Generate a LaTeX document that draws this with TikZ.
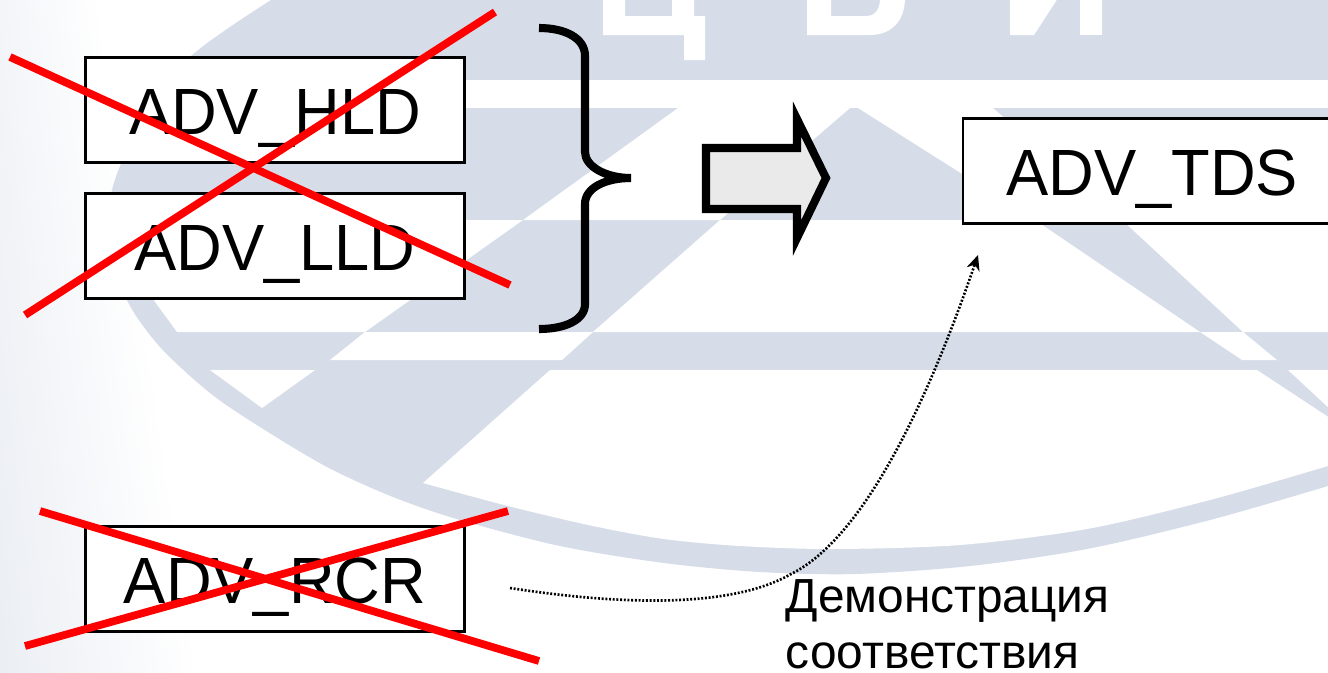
\documentclass[tikz,border=0pt]{standalone}
\usepackage{fontspec}
\setmainfont{Liberation Sans}
\newfontfamily\boxfont[FakeStretch=0.967]{Liberation Sans}
\usetikzlibrary{arrows.meta}
\definecolor{globe}{HTML}{D6DDE8}
\definecolor{arrowfill}{HTML}{EAEAEA}
\definecolor{crossred}{HTML}{FF0000}
\tikzset{
  x=0.01cm,y=-0.01cm,
  advbox/.style={draw=black,fill=white,line width=0.8pt,inner sep=0pt,minimum width=3.78cm,minimum height=1.05cm,text height=0.485cm,text depth=0pt,font=\boxfont\fontsize{18.6pt}{20pt}\selectfont},
  crossline/.style={draw=crossred,line width=2.2pt},
  gap/.style={fill=white,draw=none},
  blocky/.style={draw=black,fill=arrowfill,line width=2.3pt,line join=miter,miter limit=20},
  bracket/.style={draw=black,line width=2.3pt},
  trace/.style={draw=black,line width=0.75pt,dash pattern=on 0.55pt off 0.5pt,-{Stealth[length=4.3pt,width=3.8pt]}},
  caption/.style={anchor=base west,inner sep=0pt,font=\fontsize{13.6pt}{16pt}\selectfont}
}
\begin{document}
\begin{tikzpicture}
\useasboundingbox (0,0) rectangle (1328,672);
\clip (0,0) rectangle (1328,672);
\fill[white] (0,0) rectangle (1328,672);
% left edge tint
\foreach \yy in {0,14,...,658}{
  \pgfmathsetmacro{\ww}{100+\yy*0.15}
  \pgfmathsetmacro{\tt}{30+\yy*0.03}
  \pgfmathsetmacro{\tm}{\tt*0.18}
  \shade[left color=globe!\tt!white,middle color=globe!\tm!white,right color=white] (0,\yy) rectangle (\ww,\yy+15);
}
% globe
\fill[globe] plot[smooth] coordinates {(271,0) (190,57) (140,125) (112,190) (113,245) (127,300) (160,347) (210,393) (260,427) (327,467) (393,497) (460,520) (560,546) (664,563) (760,572) (855,574) (970,566) (1087,549) (1210,520) (1328,486) (1345,480)} -- (1345,-5) -- (271,-5) -- cycle;
% letters
\fill[gap] (603,-2) -- (625,-2) -- (625,16) -- (672,16) -- (672,-2) -- (694,-2) -- (694,16) -- (705,16) -- (705,60) -- (684,60) -- (684,35) -- (603,35) -- cycle;
\fill[gap] (807,-2) -- (831,-2) -- (831,16) -- (866,16) .. controls (876,16) and (880,8) .. (880,-2) -- (905,-2) .. controls (905,20) and (892,35) .. (870,35) -- (807,35) -- cycle;
\fill[gap] (1010,-2) -- (1010,35) -- (1034,35) -- (1058,-2) -- cycle;
\fill[gap] (1080,-2) -- (1080,35) -- (1102,35) -- (1102,-2) -- cycle;
% white bands and facets
\fill[gap] (200,80) rectangle (1345,108);
\fill[gap] (678,108) -- (850,108) -- (720,220) -- (523,220) -- cycle;
\fill[gap] (858,108) -- (993,108) -- (1122,220) -- (1035,220) -- cycle;
\fill[gap] (523,220) -- (365,332) -- (177,332) -- (153,299) -- (135,220) -- cycle;
\fill[gap] (720,220) -- (1035,220) -- (1200,332) -- (593,332) -- cycle;
\fill[gap] (1122,220) -- (1243,332) -- (1345,332) -- (1345,220) -- cycle;
\fill[gap] (365,332) -- (593,332) -- (562,360) -- (330,360) -- cycle;
\fill[gap] (1200,332) -- (1243,332) -- (1277,360) -- (1242,360) -- cycle;
\fill[gap] (210,370) -- (315,370) -- (262,408) -- cycle;
\fill[gap] (550,370) -- (1257,370) -- (1345,428) -- plot[smooth] coordinates {(1345,461) (1328,466) (1210,500) (1087,529) (960,545) (833,549) (740,546) (664,539) (593,526) (508,506) (423,483)} -- cycle;
\fill[gap] (1288,370) -- (1345,370) -- (1345,423) -- cycle;
% boxes
\node[advbox] (hld) at (275,110) {ADV\_HLD};
\node[advbox] (lld) at (275,246) {ADV\_LLD};
\node[advbox] (rcr) at (275,579) {ADV\_RCR};
\node[advbox] (tds) at (1152,171) {ADV\_TDS};
% crosses
\coordinate (a1) at (10,57); \coordinate (a2) at (510,285);
\coordinate (b1) at (25,315); \coordinate (b2) at (495,12);
\coordinate (c1) at (40,511); \coordinate (c2) at (539,661);
\coordinate (d1) at (25,646); \coordinate (d2) at (508,511);
\draw[crossline] (a1) -- (a2);
\draw[crossline] (b1) -- (b2);
\draw[crossline] (c1) -- (c2);
\draw[crossline] (d1) -- (d2);
% brace
\draw[bracket] (539,28) .. controls (565,28) and (585,38) .. (585,56) -- (585,152) .. controls (585,166) and (605,178) .. (631,178) .. controls (605,178) and (585,188) .. (585,204) -- (585,304) .. controls (585,320) and (565,329) .. (539,329);
% block arrow
\draw[blocky] (706,148) -- (797,148) -- (797,119) -- (826,178) -- (797,238) -- (797,209) -- (706,209) -- cycle;
% dotted connector
\coordinate (from) at (510,588);
\coordinate (bend) at (791,574);
\coordinate (to) at (978,255);
\draw[trace] (from) .. controls (600,602) and (725,612) .. (bend) .. controls (870,535) and (935,380) .. (to);
% caption
\node[caption] (cap1) at (785,612) {Демонстрация};
\node[caption] (cap2) at (785,668.5) {соответствия};
\end{tikzpicture}
\end{document}
